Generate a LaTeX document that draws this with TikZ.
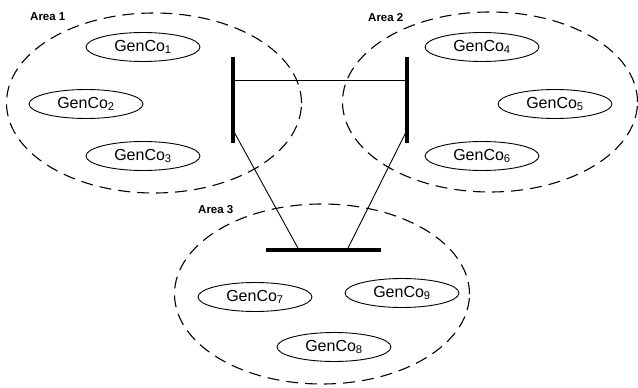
\documentclass[tikz,border=0pt]{standalone}
\usepackage{fontspec}
\setmainfont{Liberation Sans}
\usetikzlibrary{shapes.geometric}
\begin{document}
\begin{tikzpicture}[x=1pt,y=-1pt,
  area/.style={draw, ellipse, dash pattern=on 12pt off 7pt, line width=1.1pt, minimum width=295pt, minimum height=180pt, inner sep=0pt},
  genco/.style={draw, ellipse, line width=0.9pt, minimum width=114pt, minimum height=29pt, inner sep=0pt, font=\fontsize{16}{18}\selectfont},
  arealabel/.style={font=\fontsize{11.5}{13}\selectfont\bfseries, inner sep=0pt, anchor=west},
  busbar/.style={line width=3.2pt},
  tie/.style={line width=0.9pt}]
\useasboundingbox (0,0) rectangle (638,388);
% areas
\node[area] (A1) at (154,103) {};
\node[area] (A2) at (490,102) {};
\node[area] (A3) at (322,294) {};
\node[arealabel] (L1) at (30,17) {Area 1};
\node[arealabel] (L2) at (368,18) {Area 2};
\node[arealabel] (L3) at (198,210) {Area 3};
% gencos
\node[genco] (G1) at (143,47) {GenCo\textsubscript{1}};
\node[genco] (G2) at (86,104) {GenCo\textsubscript{2}};
\node[genco] (G3) at (143,156) {GenCo\textsubscript{3}};
\node[genco] (G4) at (482,47) {GenCo\textsubscript{4}};
\node[genco] (G5) at (555,104) {GenCo\textsubscript{5}};
\node[genco] (G6) at (482,156) {GenCo\textsubscript{6}};
\node[genco] (G7) at (255,297) {GenCo\textsubscript{7}};
\node[genco] (G8) at (334,347) {GenCo\textsubscript{8}};
\node[genco] (G9) at (402,293) {GenCo\textsubscript{9}};
% buses
\coordinate (B1t) at (233,57);
\coordinate (B1b) at (233,143);
\coordinate (B2t) at (407,57);
\coordinate (B2b) at (407,143);
\coordinate (B3l) at (266,250);
\coordinate (B3r) at (381,250);
\draw[busbar] (B1t) -- (B1b);
\draw[busbar] (B2t) -- (B2b);
\draw[busbar] (B3l) -- (B3r);
% tie points
\coordinate (T12a) at (233,80);
\coordinate (T12b) at (407,80);
\coordinate (T13a) at (233,130);
\coordinate (T13b) at (299,250);
\coordinate (T23a) at (407,130);
\coordinate (T23b) at (347,250);
\draw[tie] (T12a) -- (T12b);
\draw[tie] (T13a) -- (T13b);
\draw[tie] (T23a) -- (T23b);
\end{tikzpicture}
\end{document}
